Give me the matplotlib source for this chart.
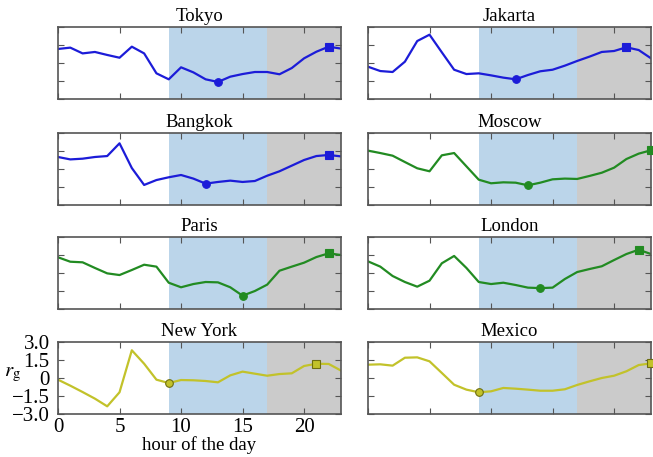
"""Hourly r_g profiles for eight cities, day/evening windows shaded"""

import numpy as np
import matplotlib
matplotlib.use("Agg")
import matplotlib.pyplot as plt

plt.rcParams["font.family"] = ["Liberation Serif", "DejaVu Serif"]
plt.rcParams["mathtext.fontset"] = "stix"
plt.rcParams["font.size"] = 13

hours = np.arange(24)

tokyo = [1.17, 1.28, 0.80, 0.92, 0.67, 0.44, 1.36, 0.80, -0.86, -1.36, -0.36, -0.78,
         -1.36, -1.58, -1.14, -0.92, -0.75, -0.75, -0.94, -0.42, 0.39, 0.94, 1.36, 1.20]
jakarta = [-0.31, -0.67, -0.75, 0.11, 1.83, 2.36, 0.89, -0.56, -0.92, -0.86, -1.03, -1.22,
           -1.36, -1.00, -0.69, -0.56, -0.22, 0.17, 0.53, 0.92, 1.00, 1.31, 1.08, 0.39]
bangkok = [1.00, 0.80, 0.86, 1.00, 1.08, 2.14, 0.08, -1.33, -0.92, -0.69, -0.50, -0.80,
           -1.22, -1.08, -0.97, -1.08, -1.00, -0.56, -0.19, 0.28, 0.75, 1.08, 1.17, 1.05]
moscow = [1.53, 1.33, 1.11, 0.58, 0.06, -0.19, 1.14, 1.33, 0.22, -0.89, -1.19, -1.11,
          -1.14, -1.36, -1.14, -0.86, -0.80, -0.83, -0.58, -0.31, 0.11, 0.83, 1.28, 1.56]
paris = [1.31, 0.94, 0.89, 0.42, -0.03, -0.17, 0.25, 0.69, 0.53, -0.81, -1.19, -0.92,
         -0.75, -0.78, -1.19, -1.89, -1.50, -0.97, 0.19, 0.53, 0.86, 1.33, 1.64, 1.50]
london = [0.97, 0.53, -0.25, -0.75, -1.14, -0.64, 0.81, 1.42, 0.42, -0.75, -0.92, -0.81,
          -1.00, -1.22, -1.26, -1.22, -0.50, 0.08, 0.33, 0.56, 1.08, 1.58, 1.94, 1.58]
new_york = [-0.14, -0.64, -1.17, -1.72, -2.36, -1.19, 2.31, 1.19, -0.14, -0.42, -0.17, -0.19,
            -0.25, -0.36, 0.22, 0.53, 0.36, 0.19, 0.33, 0.39, 1.00, 1.19, 1.17, 0.62]
mexico = [1.11, 1.14, 1.03, 1.69, 1.72, 1.39, 0.42, -0.56, -0.97, -1.19, -1.11, -0.83,
          -0.89, -0.97, -1.06, -1.06, -0.94, -0.58, -0.28, 0.00, 0.19, 0.56, 1.08, 1.22]

cities = ["Tokyo", "Jakarta", "Bangkok", "Moscow", "Paris", "London", "New York", "Mexico"]
series = [tokyo, jakarta, bangkok, moscow, paris, london, new_york, mexico]
line_colors = ["#1c1cd8", "#1c1cd8", "#1c1cd8", "#228b22",
               "#228b22", "#228b22", "#c2c22a", "#c2c22a"]
edge_colors = ["#1c1cd8", "#1c1cd8", "#1c1cd8", "#228b22",
               "#228b22", "#228b22", "#6e6e10", "#6e6e10"]

y_ticks = [-3.0, -1.5, 0.0, 1.5, 3.0]
y_tick_labels = ["\u22123.0", "\u22121.5", "0", "1.5", "3.0"]
x_ticks = [0, 5, 10, 15, 20]

day_window = (9, 17)
evening_window = (17, 23)

fig = plt.figure(figsize=(6.53, 4.57), dpi=100)

col_left = [58 / 653, 368 / 653]
ax_w = 283 / 653
row_top_px = [27, 133, 237, 342]
ax_h = 72 / 457

for i, (name, vals) in enumerate(zip(cities, series)):
    row, col = divmod(i, 2)
    bottom = 1 - (row_top_px[row] + 72) / 457
    ax = fig.add_axes([col_left[col], bottom, ax_w, ax_h])
    vals = np.asarray(vals)

    ax.axvspan(*day_window, color="#bbd5ea", lw=0, zorder=0)
    ax.axvspan(*evening_window, color="#cbcbcb", lw=0, zorder=0)
    ax.plot(hours, vals, color=line_colors[i], lw=1.6, zorder=2)

    # lowest point during the day, highest in the evening
    d0, d1 = day_window
    e0, e1 = evening_window
    i_min = d0 + int(np.argmin(vals[d0:d1 + 1]))
    i_max = e0 + int(np.argmax(vals[e0:e1 + 1]))
    ax.plot(hours[i_min], vals[i_min], "o", ms=5.5, color=line_colors[i],
            mec=edge_colors[i], mew=0.8, zorder=3, clip_on=False)
    ax.plot(hours[i_max], vals[i_max], "s", ms=5.5, color=line_colors[i],
            mec=edge_colors[i], mew=0.8, zorder=3, clip_on=False)

    ax.set_xlim(0, 23)
    ax.set_ylim(-3, 3)
    ax.set_xticks(x_ticks)
    ax.set_yticks(y_ticks)
    ax.tick_params(direction="in", top=True, right=True, length=4,
                   width=0.8, color="#555555", labelsize=15, pad=3)
    for sp in ax.spines.values():
        sp.set_color("#555555")
        sp.set_linewidth(1.2)
    ax.set_title(name, fontsize=13.5, pad=4)

    if row == 3 and col == 0:
        ax.set_yticklabels(y_tick_labels)
        ax.tick_params(axis="y", pad=6)
        ax.set_xlabel("hour of the day", fontsize=13.5, labelpad=-1)
        ax.set_ylabel(r"$r_{\rm g}$", fontsize=15, rotation=0)
        ax.yaxis.set_label_coords(-0.16, 0.42)
    else:
        ax.set_yticklabels([])
        ax.set_xticklabels([])

fig.savefig("out.png", dpi=100)
